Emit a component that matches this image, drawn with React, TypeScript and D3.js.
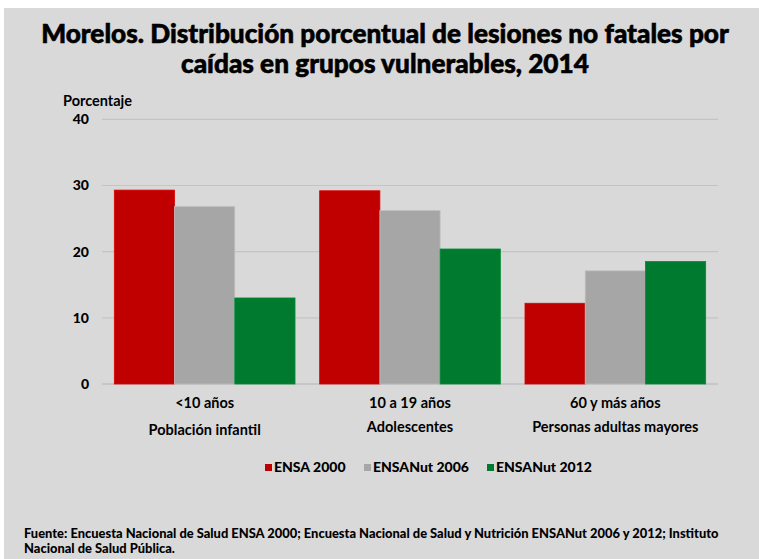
import React from "react";
import * as d3 from "d3";

const categories = ["<10 años", "10 a 19 años", "60 y más años"];
const subLabels = ["Población infantil", "Adolescentes", "Personas adultas mayores"];
const seriesNames = ["ENSA 2000", "ENSANut 2006", "ENSANut 2012"];
const ensa2000 = [29.3, 29.2, 12.2];
const ensanut2006 = [26.8, 26.2, 17.1];
const ensanut2012 = [13.0, 20.4, 18.5];
const yTicks = [0, 10, 20, 30, 40];
const colors = ["#C00000", "#A6A6A6", "#007A2E"];

const W = 759;
const H = 559;
const left = 102;
const right = 718;
const top = 119.3;
const bottom = 384;

export default function App() {
  const series = [ensa2000, ensanut2006, ensanut2012];
  const x0 = d3.scaleBand<string>().domain(categories).range([left, right]).paddingInner(0.12).paddingOuter(0.06);
  const x1 = d3.scaleBand<string>().domain(seriesNames).range([0, x0.bandwidth()]).padding(0);
  const y = d3.scaleLinear().domain([0, 40]).range([bottom, top]);
  const font = "Lato, 'Open Sans', sans-serif";
  const legendX = [265, 364, 487];
  return (
    <svg width={W} height={H} style={{ position: "absolute", left: 0, top: 0 }} fontFamily={font}>
      <rect x={0} y={0} width={W} height={H} fill="#fff" />
      <rect x={4} y={8} width={W - 4} height={H - 8} fill="#D9D9D9" />
      <text x={385} y={43} textAnchor="middle" fontSize={26.2} fontWeight={900} fill="#000" stroke="#000" strokeWidth={0.6}>
        Morelos. Distribución porcentual de lesiones no fatales por
      </text>
      <text x={385} y={73} textAnchor="middle" fontSize={26.2} fontWeight={900} fill="#000" stroke="#000" strokeWidth={0.6}>
        caídas en grupos vulnerables, 2014
      </text>
      <text x={63} y={106} fontSize={14.5} fontWeight={700} fill="#000">Porcentaje</text>
      {yTicks.map((t) => (
        <g key={t}>
          <line x1={left} x2={right} y1={y(t)} y2={y(t)} stroke={t === 0 ? "#BFBFBF" : "#C4C4C4"} strokeWidth={t === 0 ? 1.5 : 1.2} />
          <text x={89} y={y(t) + 5} textAnchor="end" fontSize={14} fontWeight={900} fill="#000">{t}</text>
        </g>
      ))}
      {categories.map((c, i) => (
        <g key={c}>
          {series.map((s, j) => (
            <rect
              key={j}
              x={(x0(c) as number) + (x1(seriesNames[j]) as number)}
              y={y(s[i])}
              width={x1.bandwidth()}
              height={y(0) - y(s[i])}
              fill={colors[j]}
              stroke={d3.color(colors[j])!.brighter(0.4).toString()}
              strokeWidth={0.8}
            />
          ))}
          <text x={(x0(c) as number) + x0.bandwidth() / 2} y={408} textAnchor="middle" fontSize={14.5} fontWeight={700} fill="#000">{c}</text>
          <text x={(x0(c) as number) + x0.bandwidth() / 2} y={i === 0 ? 435 : 432} textAnchor="middle" fontSize={14.5} fontWeight={700} fill="#000">{subLabels[i]}</text>
        </g>
      ))}
      {seriesNames.map((n, j) => (
        <g key={n}>
          <rect x={legendX[j]} y={464} width={7} height={7} fill={colors[j]} />
          <text x={legendX[j] + 9} y={472} fontSize={14} fontWeight={900} fill="#000">{n}</text>
        </g>
      ))}
      <text x={24} y={538} fontSize={12.9} fontWeight={900} fill="#000">
        Fuente: Encuesta Nacional de Salud ENSA 2000; Encuesta Nacional de Salud y Nutrición ENSANut 2006 y 2012; Instituto
      </text>
      <text x={24} y={553} fontSize={12.9} fontWeight={900} fill="#000">Nacional de Salud Pública.</text>
    </svg>
  );
}
